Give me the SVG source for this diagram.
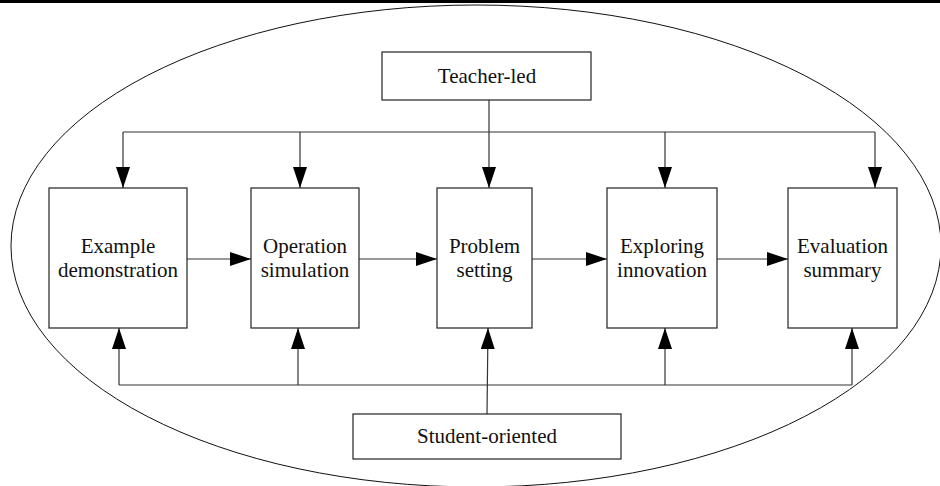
<svg xmlns="http://www.w3.org/2000/svg" width="940" height="486" viewBox="0 0 940 486">
<style>
.box{fill:#fff;stroke:#222;stroke-width:1.2}
.t{font-family:"Liberation Serif","Times New Roman",serif;font-size:21px;fill:#111;text-anchor:middle}
.c{fill:none;stroke:#333;stroke-width:1.2}
</style>
<defs>
<marker id="ah" markerUnits="userSpaceOnUse" markerWidth="22" markerHeight="14" refX="21" refY="7" orient="auto">
<path d="M0,0 L21,7 L0,14 z" fill="#000"/>
</marker>
</defs>
<rect x="0" y="0" width="940" height="486" fill="#fff"/>
<rect x="0" y="0" width="940" height="3" fill="#000"/>
<ellipse cx="476" cy="246" rx="465" ry="241" fill="none" stroke="#111" stroke-width="1"/>
<g id="connectors">
<path class="c" d="M489,100 L489,188" marker-end="url(#ah)"/>
<path class="c" d="M123,132 L875,132"/>
<path class="c" d="M123,132 L123,188" marker-end="url(#ah)"/>
<path class="c" d="M300,132 L300,188" marker-end="url(#ah)"/>
<path class="c" d="M665,132 L665,188" marker-end="url(#ah)"/>
<path class="c" d="M875,132 L875,188" marker-end="url(#ah)"/>
<path class="c" d="M187,259 L251,259" marker-end="url(#ah)"/>
<path class="c" d="M359,259 L437,259" marker-end="url(#ah)"/>
<path class="c" d="M532,259 L607,259" marker-end="url(#ah)"/>
<path class="c" d="M717,259 L788,259" marker-end="url(#ah)"/>
<path class="c" d="M119,385 L852,385"/>
<path class="c" d="M119,385 L119,328" marker-end="url(#ah)"/>
<path class="c" d="M298,385 L298,328" marker-end="url(#ah)"/>
<path class="c" d="M665,385 L665,328" marker-end="url(#ah)"/>
<path class="c" d="M852,385 L852,328" marker-end="url(#ah)"/>
<path class="c" d="M487,414 L488,328" marker-end="url(#ah)"/>
</g>
<g id="teacher">
<rect class="box" x="382" y="52" width="209" height="48"/>
<text class="t" x="487" y="83">Teacher-led</text>
</g>
<g id="example">
<rect class="box" x="49" y="188" width="138" height="140"/>
<text class="t" x="118" y="253">Example</text>
<text class="t" x="118" y="277">demonstration</text>
</g>
<g id="operation">
<rect class="box" x="251" y="188" width="108" height="140"/>
<text class="t" x="305" y="253">Operation</text>
<text class="t" x="305" y="277">simulation</text>
</g>
<g id="problem">
<rect class="box" x="437" y="188" width="95" height="140"/>
<text class="t" x="484.5" y="253">Problem</text>
<text class="t" x="484.5" y="277">setting</text>
</g>
<g id="exploring">
<rect class="box" x="607" y="188" width="110" height="140"/>
<text class="t" x="662" y="253">Exploring</text>
<text class="t" x="662" y="277">innovation</text>
</g>
<g id="evaluation">
<rect class="box" x="788" y="188" width="109" height="140"/>
<text class="t" x="842.5" y="253">Evaluation</text>
<text class="t" x="842.5" y="277">summary</text>
</g>
<g id="student">
<rect class="box" x="353" y="414" width="268" height="45"/>
<text class="t" x="487" y="443">Student-oriented</text>
</g>
</svg>
